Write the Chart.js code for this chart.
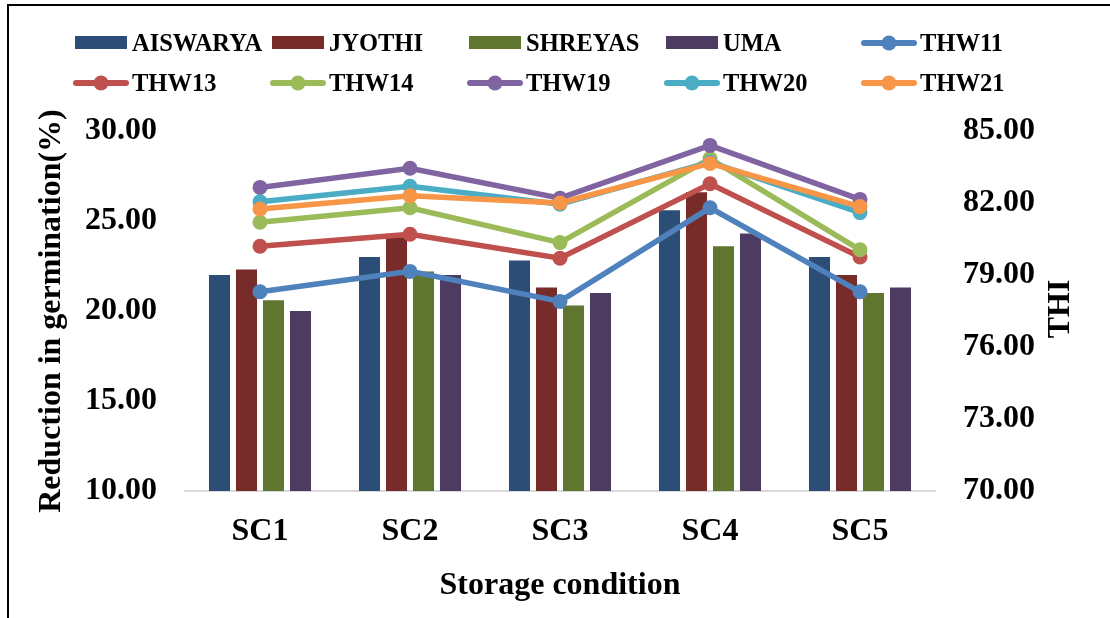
<!DOCTYPE html>
<html>
<head>
<meta charset="utf-8">
<script src="https://cdn.jsdelivr.net/npm/chart.js@4.4.1/dist/chart.umd.min.js"></script>
<style>
  html, body { margin: 0; padding: 0; background: #fff; }
  #wrap { position: relative; width: 1110px; height: 618px; }
  #frame { position: absolute; left: 7px; top: 4px; width: 1110px; height: 620px;
           border-top: 2px solid #000; border-left: 2px solid #000; pointer-events: none; }
</style>
</head>
<body>
<div id="wrap">
  <canvas id="chart"></canvas>
  <div id="frame"></div>
</div>
<script>
// categories
const conditions = ['SC1', 'SC2', 'SC3', 'SC4', 'SC5'];

// reduction in germination (%) - bars, left axis
const aiswarya = [22.0, 23.0, 22.8, 25.6, 23.0];
const jyothi   = [22.3, 24.1, 21.3, 26.6, 22.0];
const shreyas  = [20.6, 22.2, 20.3, 23.6, 21.0];
const uma      = [20.0, 22.0, 21.0, 24.3, 21.3];

// THI - lines, right axis
const thw11 = [78.3, 79.15, 77.9, 81.8, 78.3];
const thw13 = [80.2, 80.7, 79.7, 82.8, 79.75];
const thw14 = [81.2, 81.8, 80.35, 83.85, 80.05];
const thw19 = [82.65, 83.45, 82.2, 84.4, 82.15];
const thw20 = [82.05, 82.7, 81.95, 83.7, 81.6];
const thw21 = [81.75, 82.3, 82.0, 83.65, 81.85];

const FONT = "'Liberation Serif', 'Times New Roman', serif";

function bar(label, data, color) {
  return { type: 'bar', label, data, backgroundColor: color, yAxisID: 'y', order: 10,
           categoryPercentage: 0.72, barPercentage: 0.78 };
}
function line(label, data, color, order) {
  return { type: 'line', label, data, borderColor: color, backgroundColor: color,
           pointBackgroundColor: color, pointBorderWidth: 0, pointRadius: 7.5, pointHoverRadius: 7.5,
           borderWidth: 5.5, tension: 0, yAxisID: 'y1', order };
}

const datasets = [
  bar('AISWARYA', aiswarya, '#2C4D75'),
  bar('JYOTHI', jyothi, '#772C2A'),
  bar('SHREYAS', shreyas, '#5F7530'),
  bar('UMA', uma, '#4D3B62'),
  line('THW11', thw11, '#4F81BD', 6),
  line('THW13', thw13, '#C0504D', 5),
  line('THW14', thw14, '#9BBB59', 4),
  line('THW19', thw19, '#8064A2', 3),
  line('THW20', thw20, '#4BACC6', 2),
  line('THW21', thw21, '#F79646', 1)
];

// legend in a 5-column grid, plus the right title reading upwards
const extras = {
  id: 'extras',
  afterDraw(chart) {
    const ctx = chart.ctx;
    ctx.save();
    ctx.font = 'bold 24.5px ' + FONT;
    ctx.fillStyle = '#000';
    ctx.textBaseline = 'alphabetic';
    ctx.textAlign = 'left';
    chart.data.datasets.forEach((ds, i) => {
      const col = i % 5, row = Math.floor(i / 5);
      const x = 74 + col * 197;
      const cy = row ? 83 : 43;
      if (ds.type === 'bar') {
        ctx.fillStyle = ds.backgroundColor;
        ctx.fillRect(x + 1, cy - 7, 52, 13);
      } else {
        ctx.strokeStyle = ds.borderColor;
        ctx.lineWidth = 6;
        ctx.lineCap = 'round';
        ctx.beginPath();
        ctx.moveTo(x + 2, cy);
        ctx.lineTo(x + 52, cy);
        ctx.stroke();
        ctx.fillStyle = ds.borderColor;
        ctx.beginPath();
        ctx.arc(x + 27, cy, 7.5, 0, Math.PI * 2);
        ctx.fill();
      }
      ctx.fillStyle = '#000';
      ctx.fillText(ds.label, x + 58, cy + 8);
    });
    // THI
    ctx.font = 'bold 32px ' + FONT;
    ctx.translate(1061, 309);
    ctx.rotate(-Math.PI / 2);
    ctx.textAlign = 'center';
    ctx.textBaseline = 'middle';
    ctx.fillText('THI', 0, 0);
    ctx.restore();
  }
};

Chart.defaults.font.family = FONT;
Chart.defaults.font.weight = 'bold';
Chart.defaults.font.size = 32;
Chart.defaults.color = '#000';

new Chart(document.getElementById('chart'), {
  data: { labels: conditions, datasets },
  options: {
    responsive: true,
    maintainAspectRatio: false,
    animation: false,
    layout: { padding: { top: 131, left: 0, right: 0, bottom: 0 } },
    plugins: { legend: { display: false }, tooltip: { enabled: false } },
    scales: {
      x: {
        grid: { display: false },
        border: { color: '#D9D9D9', width: 2 },
        ticks: { padding: 14 },
        title: { display: true, text: 'Storage condition', padding: { top: 0, bottom: 13 } },
        afterFit: s => { s.height = 127; }
      },
      y: {
        position: 'left',
        min: 10, max: 30,
        grid: { display: false, drawTicks: false },
        border: { display: false },
        ticks: { stepSize: 5, padding: 28, callback: v => v.toFixed(2) },
        title: { display: true, text: 'Reduction in germination(%)', padding: { top: 33, bottom: 0 } },
        afterFit: s => { s.width = 185; }
      },
      y1: {
        position: 'right',
        min: 70, max: 85,
        grid: { display: false, drawTicks: false },
        border: { display: false },
        ticks: { stepSize: 3, padding: 28, callback: v => v.toFixed(2) },
        afterFit: s => { s.width = 175; }
      }
    }
  },
  plugins: [extras]
});
</script>
</body>
</html>
